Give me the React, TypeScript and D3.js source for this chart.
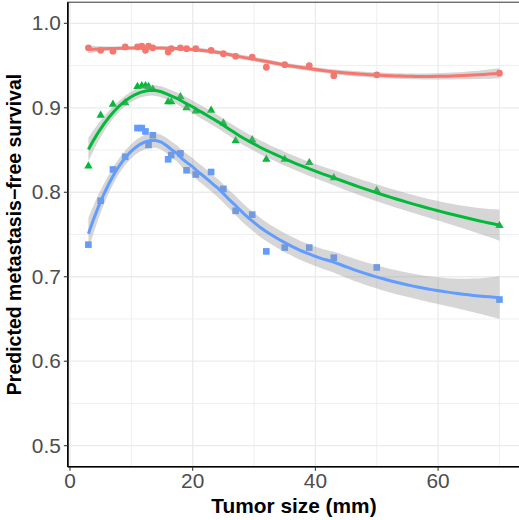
import { useMemo } from "react";
import * as d3 from "d3";

const WIDTH = 519;
const HEIGHT = 520;
const MARGIN = { top: 2.2, right: -1, bottom: 53.2, left: 67.85 };
const FONT_SIZE = 19.5;
const STRETCH = 1.07;

// tumor sizes shared by the three groups (mm)
const tumorSize = [3, 5, 7, 9, 11, 11.7, 12.3, 12.8, 13.5, 16, 16.5, 18, 19, 20.5, 23, 25, 27, 29.7, 32, 35, 39, 43, 50, 70];

const survivalTop = [
  0.971, 0.968, 0.967, 0.972, 0.972, 0.973, 0.968, 0.973, 0.971, 0.966, 0.97, 0.971, 0.97, 0.97, 0.968, 0.964, 0.961,
  0.96, 0.948, 0.951, 0.95, 0.938, 0.939, 0.941,
];
const survivalMid = [
  0.831, 0.891, 0.904, 0.906, 0.925, 0.926, 0.926, 0.925, 0.922, 0.907, 0.907, 0.913, 0.9, 0.896, 0.897, 0.882, 0.861,
  0.862, 0.839, 0.839, 0.835, 0.817, 0.802, 0.7605,
];
const survivalLow = [
  0.738, 0.79, 0.827, 0.842, 0.876, 0.876, 0.872, 0.856, 0.8675, 0.839, 0.844, 0.846, 0.826, 0.821, 0.824, 0.804, 0.778,
  0.7735, 0.73, 0.7345, 0.7345, 0.7226, 0.711, 0.673,
];

const yTicks = [0.5, 0.6, 0.7, 0.8, 0.9, 1.0];
const yMinor = [0.55, 0.65, 0.75, 0.85, 0.95];
const xTicks = [0, 20, 40, 60];
const xMinor = [10, 30, 50, 70];

const SERIES = [
  { key: "top", values: survivalTop, color: "#F8766D", shape: "circle" },
  { key: "mid", values: survivalMid, color: "#00BA38", shape: "triangle" },
  { key: "low", values: survivalLow, color: "#619CFF", shape: "square" },
];

// local quadratic weights (loess, span 0.75, tricube)
const loessWeights = (xs: number[], x0: number, span: number) => {
  const n = xs.length;
  const q = Math.floor(n * span);
  const dists = xs.map((x) => Math.abs(x - x0));
  const h = [...dists].sort((a, b) => a - b)[q - 1] * 1.0000001;
  const w = dists.map((d) => (d < h ? Math.pow(1 - Math.pow(d / h, 3), 3) : 0));
  // normal equations 3x3
  const A = [
    [0, 0, 0],
    [0, 0, 0],
    [0, 0, 0],
  ];
  xs.forEach((x, i) => {
    const u = x - x0;
    const p = [1, u, u * u];
    for (let r = 0; r < 3; r++) for (let c = 0; c < 3; c++) A[r][c] += w[i] * p[r] * p[c];
  });
  const inv = invert3(A);
  return xs.map((x, i) => {
    const u = x - x0;
    return w[i] * (inv[0][0] + inv[0][1] * u + inv[0][2] * u * u);
  });
};

function invert3(m: number[][]) {
  const [a, b, c] = m[0];
  const [d, e, f] = m[1];
  const [g, h, i] = m[2];
  const A = e * i - f * h;
  const B = -(d * i - f * g);
  const C = d * h - e * g;
  const det = a * A + b * B + c * C;
  return [
    [A / det, -(b * i - c * h) / det, (b * f - c * e) / det],
    [B / det, (a * i - c * g) / det, -(a * f - c * d) / det],
    [C / det, -(a * h - b * g) / det, (a * e - b * d) / det],
  ];
}

const qt975 = (df: number) => {
  const z = 1.959964;
  const g1 = (z ** 3 + z) / 4;
  const g2 = (5 * z ** 5 + 16 * z ** 3 + 3 * z) / 96;
  const g3 = (3 * z ** 7 + 19 * z ** 5 + 17 * z ** 3 - 15 * z) / 384;
  return z + g1 / df + g2 / df ** 2 + g3 / df ** 3;
};

const smooth = (xs: number[], ys: number[], span = 0.75, nEval = 80) => {
  const n = xs.length;
  const L = xs.map((x0) => loessWeights(xs, x0, span));
  const fitted = L.map((row) => d3.sum(row, (l, j) => l * ys[j]));
  const rss = d3.sum(ys, (y, i) => (y - fitted[i]) ** 2);
  // M = (I-L)^T (I-L)
  const IL = L.map((row, i) => row.map((l, j) => (i === j ? 1 : 0) - l));
  const M = d3.range(n).map((r) => d3.range(n).map((c) => d3.sum(IL, (row) => row[r] * row[c])));
  const one = d3.sum(M, (row, i) => row[i]);
  const two = d3.sum(M, (row) => d3.sum(row, (v) => v * v));
  const sigma = Math.sqrt(rss / one);
  const t = qt975((one * one) / two);
  const [lo, hi] = d3.extent(xs) as [number, number];
  return d3.range(nEval).map((k) => {
    const x0 = lo + ((hi - lo) * k) / (nEval - 1);
    const l = loessWeights(xs, x0, span);
    const y = d3.sum(l, (v, j) => v * ys[j]);
    const se = sigma * Math.sqrt(d3.sum(l, (v) => v * v));
    return { x: x0, y, ymin: y - t * se, ymax: y + t * se };
  });
};

export default function App() {
  const boundsWidth = WIDTH - MARGIN.left - MARGIN.right;
  const boundsHeight = HEIGHT - MARGIN.top - MARGIN.bottom;

  const xScale = useMemo(() => {
    const [lo, hi] = d3.extent(tumorSize) as [number, number];
    const pad = (hi - lo) * 0.05;
    return d3.scaleLinear().domain([lo - pad, hi + pad]).range([0, boundsWidth]);
  }, [boundsWidth]);

  const yScale = useMemo(() => d3.scaleLinear().domain([0.475, 1.025]).range([boundsHeight, 0]), [boundsHeight]);

  const fits = useMemo(() => SERIES.map((s) => smooth(tumorSize, s.values)), []);

  const line = d3
    .line<{ x: number; y: number }>()
    .x((d) => xScale(d.x))
    .y((d) => yScale(d.y));
  const area = d3
    .area<{ x: number; ymin: number; ymax: number }>()
    .x((d) => xScale(d.x))
    .y0((d) => yScale(d.ymin))
    .y1((d) => yScale(d.ymax));

  const symbolPath = (shape: string) => {
    if (shape === "triangle") return d3.symbol(d3.symbolTriangle, 30)()!;
    if (shape === "square") return d3.symbol(d3.symbolSquare, 44)()!;
    return d3.symbol(d3.symbolCircle, 36)()!;
  };

  return (
    <svg
      width={WIDTH}
      height={HEIGHT}
      style={{ position: "absolute", left: 0, top: 0, background: "#fff" }}
      fontFamily="'Liberation Sans', Arial, sans-serif"
    >
      <g transform={`translate(${MARGIN.left},${MARGIN.top})`}>
        {/* grid */}
        {yMinor.map((v) => (
          <line key={`ym${v}`} x1={0} x2={boundsWidth} y1={yScale(v)} y2={yScale(v)} stroke="#EBEBEB" strokeWidth={0.8} />
        ))}
        {xMinor.map((v) => (
          <line key={`xm${v}`} x1={xScale(v)} x2={xScale(v)} y1={0} y2={boundsHeight} stroke="#EBEBEB" strokeWidth={0.8} />
        ))}
        {yTicks.map((v) => (
          <line key={`y${v}`} x1={0} x2={boundsWidth} y1={yScale(v)} y2={yScale(v)} stroke="#EBEBEB" strokeWidth={1.3} />
        ))}
        {xTicks.map((v) => (
          <line key={`x${v}`} x1={xScale(v)} x2={xScale(v)} y1={0} y2={boundsHeight} stroke="#EBEBEB" strokeWidth={1.3} />
        ))}

        {/* points under the smooths */}
        {SERIES.map((s) =>
          s.values.map((v, i) => (
            <path
              key={`${s.key}${i}`}
              d={symbolPath(s.shape)}
              transform={`translate(${xScale(tumorSize[i])},${yScale(v)})`}
              fill={s.color}
            />
          )),
        )}

        {fits.map((f, i) => (
          <path key={`band${i}`} d={area(f)!} fill="#999999" fillOpacity={0.4} />
        ))}
        {fits.map((f, i) => (
          <path key={`fit${i}`} d={line(f)!} fill="none" stroke={SERIES[i].color} strokeWidth={3} />
        ))}

        {/* panel border + axis lines */}
        <rect x={0} y={0} width={boundsWidth} height={boundsHeight} fill="none" stroke="#333333" strokeWidth={1} />
        <line x1={0} x2={0} y1={0} y2={boundsHeight} stroke="#000" strokeWidth={1.6} />
        <line x1={0} x2={boundsWidth} y1={boundsHeight} y2={boundsHeight} stroke="#000" strokeWidth={1.6} />

        {/* y axis */}
        {yTicks.map((v) => (
          <g key={`yt${v}`} transform={`translate(0,${yScale(v)})`}>
            <line x1={-4} x2={0} stroke="#333" strokeWidth={1.1} />
            <text
              transform={`translate(-7,0) scale(${STRETCH},1)`}
              dy="0.36em"
              textAnchor="end"
              fontSize={FONT_SIZE}
              fill="#4D4D4D"
            >
              {d3.format(".1f")(v)}
            </text>
          </g>
        ))}
        {/* x axis */}
        {xTicks.map((v) => (
          <g key={`xt${v}`} transform={`translate(${xScale(v)},${boundsHeight})`}>
            <line y1={0} y2={4} stroke="#333" strokeWidth={1.1} />
            <text transform={`translate(0,21.5) scale(${STRETCH},1)`} textAnchor="middle" fontSize={FONT_SIZE} fill="#4D4D4D">
              {v}
            </text>
          </g>
        ))}
        <text
          transform={`translate(${boundsWidth / 2},${boundsHeight + 46}) scale(${STRETCH},1)`}
          textAnchor="middle"
          fontSize={FONT_SIZE}
          fontWeight="bold"
          fill="#000"
        >
          Tumor size (mm)
        </text>
        <text
          transform={`translate(${-47},${boundsHeight / 2}) rotate(-90)`}
          textAnchor="middle"
          fontSize={FONT_SIZE}
          fontWeight="bold"
          fill="#000"
        >
          Predicted metastasis−free survival
        </text>
      </g>
    </svg>
  );
}
